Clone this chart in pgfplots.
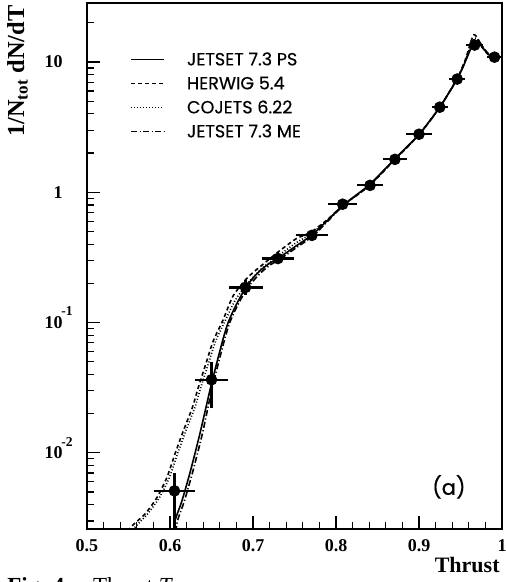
\documentclass[border=0pt]{standalone}
\usepackage{pgfplots}
\pgfplotsset{compat=1.18}
\usepackage{fontspec}
\setmainfont{Liberation Serif}
\newfontfamily\legfont{Poppins}[FakeBold=0.4]
\pgfplotstableread{
x y
0.6025 0.0020
0.606 0.0030
0.614 0.0042
0.624 0.0070
0.636 0.0140
0.648 0.0300
0.656 0.0480
0.664 0.075
0.670 0.100
0.678 0.130
0.690 0.180
0.700 0.220
0.710 0.255
0.720 0.285
0.730 0.310
0.750 0.380
0.770 0.465
0.790 0.610
0.810 0.810
0.840 1.140
0.870 1.780
0.900 2.780
0.925 4.50
0.946 7.40
0.955 9.8
0.962 12.5
0.967 14.2
0.972 14.0
0.978 12.6
0.984 11.4
0.990 10.8
0.995 10.5
}\jetps
\pgfplotstableread{
x y
0.548 0.0022
0.552 0.00265
0.570 0.0034
0.584 0.0045
0.596 0.0064
0.606 0.0098
0.616 0.0147
0.627 0.0223
0.634 0.0316
0.644 0.050
0.652 0.072
0.664 0.105
0.676 0.160
0.693 0.220
0.712 0.280
0.732 0.355
0.752 0.440
0.770 0.495
0.790 0.620
0.810 0.810
0.840 1.120
0.870 1.760
0.900 2.760
0.925 4.50
0.946 7.50
0.956 10.5
0.962 14.0
0.966 16.2
0.970 15.5
0.976 13.0
0.983 11.5
0.990 10.7
0.995 10.4
}\herwig
\pgfplotstableread{
x y
0.552 0.0022
0.556 0.0026
0.573 0.0034
0.587 0.0045
0.599 0.0064
0.609 0.0098
0.619 0.0147
0.630 0.0223
0.637 0.0316
0.647 0.050
0.655 0.072
0.667 0.105
0.679 0.150
0.695 0.205
0.712 0.265
0.732 0.330
0.752 0.410
0.770 0.480
0.790 0.615
0.810 0.810
0.840 1.13
0.870 1.77
0.900 2.77
0.925 4.5
0.946 7.45
0.956 10.3
0.963 13.8
0.967 15.3
0.971 14.8
0.977 12.8
0.984 11.3
0.990 10.7
0.995 10.4
}\cojets
\pgfplotstableread{
x y
0.605 0.0020
0.609 0.0030
0.617 0.0042
0.627 0.0070
0.639 0.0140
0.650 0.0300
0.658 0.048
0.666 0.075
0.672 0.100
0.680 0.130
0.692 0.180
0.702 0.215
0.712 0.250
0.722 0.280
0.732 0.305
0.752 0.375
0.772 0.460
0.790 0.600
0.810 0.800
0.840 1.130
0.870 1.770
0.900 2.770
0.925 4.48
0.946 7.4
0.956 10.2
0.962 13.0
0.967 14.8
0.972 14.5
0.978 12.8
0.985 11.3
0.990 10.8
0.995 10.5
}\jetme
\pgfplotstableread{
x y ex eyp eym
0.6054 0.0051 0.0247 0.0019 0.0046
0.650 0.0364 0.020 0.0136 0.0144
0.691 0.186 0.0205 0.028 0.024
0.730 0.31 0.0195 0.035 0.03
0.771 0.467 0.019 0.04 0.035
0.808 0.81 0.0175 0.06 0.05
0.841 1.13 0.0155 0.08 0.07
0.871 1.79 0.0145 0.12 0.1
0.900 2.79 0.0155 0.18 0.15
0.925 4.5 0.0095 0.3 0.25
0.946 7.4 0.0095 0.5 0.4
0.967 13.5 0.010 0.9 0.8
0.991 10.9 0.009 0.7 0.6
}\datapts
\newcommand\ex[1]{\rlap{\smash{\kern-0.6pt\raisebox{6.3pt}{\fontsize{6.8}{7}\selectfont #1}}}}
\begin{document}
\begin{tikzpicture}
\begin{axis}[
 at={(0,0)}, anchor=south west,
 scale only axis, width=207.5pt, height=263pt,
 xmin=0.5, xmax=1, ymode=log, ymin=0.0026, ymax=28.4,
 axis line style={line width=1pt},
 xtick={0.5,0.6,0.7,0.8,0.9,1}, xticklabels={0.5,0.6,0.7,0.8,0.9,1},
 minor xtick={0.52,0.54,0.56,0.58,0.62,0.64,0.66,0.68,0.72,0.74,0.76,0.78,0.82,0.84,0.86,0.88,0.92,0.94,0.96,0.98},
 ytick={0.01,0.1,1,10},
 yticklabels={10\ex{-2},10\ex{-1},1,10},
 minor ytick={0.003,0.004,0.005,0.006,0.007,0.008,0.009,0.02,0.03,0.04,0.05,0.06,0.07,0.08,0.09,0.2,0.3,0.4,0.5,0.6,0.7,0.8,0.9,2,3,4,5,6,7,8,9,20},
 tick align=inside, xtick pos=bottom, ytick pos=left,
 major tick length=6.5pt, minor tick length=3.5pt,
 every tick/.style={line width=0.6pt, black},
 xticklabel style={font=\bfseries\fontsize{9}{10}\selectfont, inner sep=0pt, anchor=north, yshift=-5pt},
 yticklabel style={font=\bfseries\fontsize{9}{10}\selectfont, inner sep=0pt, anchor=east, xshift=-12pt},
 xlabel={Thrust},
 xlabel style={at={(axis description cs:1,0)}, anchor=base east, yshift=-21.5pt, xshift=-1pt, inner sep=0pt, font=\bfseries\fontsize{11}{13}\selectfont},
 ylabel={1/N\textsubscript{tot} dN/dT},
 ylabel style={at={(axis description cs:-0.1518,0.9962)}, anchor=base east, rotate=0, inner sep=0pt, font=\bfseries\fontsize{12.2}{14}\selectfont},
 legend style={draw=none, fill=none, at={(axis description cs:0.1036,0.905)}, anchor=north west, inner sep=0pt,
   font=\legfont\fontsize{8.8}{9}\selectfont, row sep=6pt,
   nodes={inner sep=0pt, text height=6pt, text depth=0pt},
   /tikz/every odd column/.append style={column sep=11pt}},
 legend cell align=left,
 legend image code/.code={\draw[#1] (0pt,0pt) -- (16.5pt,0pt);},
 clip=true,
]
\addplot[black, line width=0.8pt, smooth, tension=0.4] table[x=x,y=y]{\jetps};
\addlegendentry{JETSET 7.3 PS}
\addplot[black, line width=0.8pt, dash pattern=on 2pt off 1.5pt, smooth, tension=0.4] table[x=x,y=y]{\herwig};
\addlegendentry{HERWIG 5.4}
\addplot[black, line width=0.8pt, dash pattern=on 0.5pt off 1pt, smooth, tension=0.4] table[x=x,y=y]{\cojets};
\addlegendentry{COJETS 6.22}
\addplot[black, line width=0.8pt, dash pattern=on 3pt off 1.2pt on 0.6pt off 1.2pt, smooth, tension=0.4] table[x=x,y=y]{\jetme};
\addlegendentry{JETSET 7.3 ME}
\addplot[only marks, mark=*, mark size=2.7pt, black, forget plot,
  error bars/.cd, x dir=both, x explicit, y dir=both, y explicit,
  error mark=none, error bar style={line width=1.1pt, black}]
  table[x=x, y=y, x error=ex, y error plus=eyp, y error minus=eym]{\datapts};
\node[font=\legfont\fontsize{10.5}{12}\selectfont, inner sep=0pt] at (axis description cs:0.872,0.080) {(a)};
\end{axis}
\node[anchor=north west, inner sep=0pt, font=\bfseries\fontsize{11.5}{13}\selectfont] at (-40pt,-24pt) {Fig. 4a.\ \ \mdseries Thrust \textit{T}};
\pgfresetboundingbox
\useasboundingbox (-43.5pt,-26.5pt) rectangle (209.5pt,264.5pt);
\end{tikzpicture}
\end{document}
